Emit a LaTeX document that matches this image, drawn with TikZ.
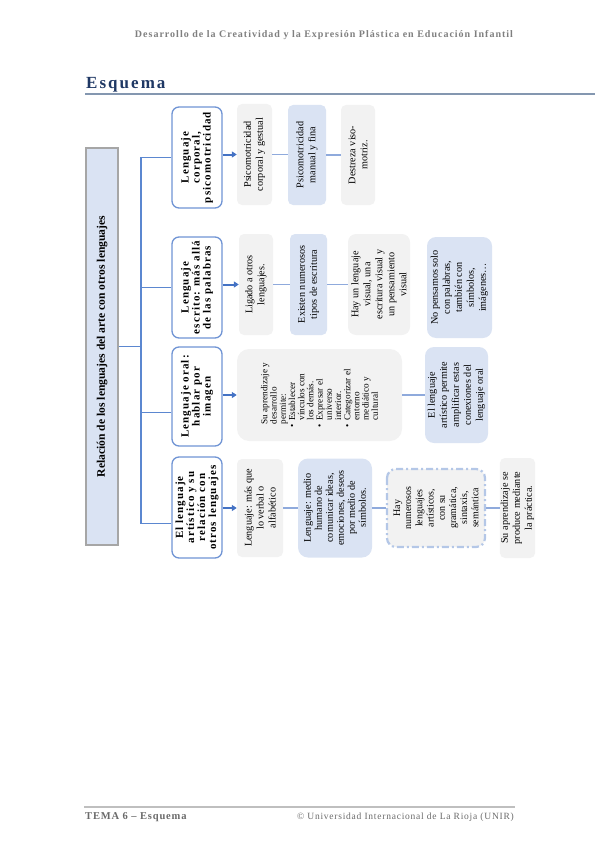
\documentclass[tikz,border=0pt]{standalone}
\usepackage{fontspec}
\setmainfont{Liberation Serif}
\newfontfamily\widefam[LetterSpace=10]{Liberation Serif}
\newfontfamily\hdfam[LetterSpace=10]{Liberation Serif}
\newfontfamily\ftfam[LetterSpace=8]{Liberation Serif}
\newfontfamily\ttlfam[LetterSpace=12]{Liberation Serif}
\usetikzlibrary{arrows.meta,calc}
\definecolor{boxgray}{HTML}{F2F2F2}
\definecolor{boxblue}{HTML}{DAE3F3}
\definecolor{lblue}{HTML}{7094D4}
\definecolor{arrblue}{HTML}{4472C4}
\definecolor{connblue}{HTML}{8FAADC}
\definecolor{spblue}{HTML}{5B87D0}
\definecolor{rootgray}{HTML}{A6A6A6}
\definecolor{dashblue}{HTML}{B4C7E7}
\definecolor{hdgray}{HTML}{7F7F7F}
\definecolor{ftgray}{HTML}{6A6A6A}
\definecolor{ttlblue}{HTML}{1F3864}
\definecolor{rulecol}{HTML}{8497B0}
\definecolor{frule}{HTML}{BFBFBF}
\tikzset{
  rbox/.style={rotate=90, align=center, inner sep=1pt, font=\fontsize{10.2}{12}\selectfont},
  gbox/.style={rbox, fill=boxgray, rounded corners=5pt},
  bbox/.style={rbox, fill=boxblue, rounded corners=5pt},
  lone/.style={rotate=90, align=center, inner sep=1pt, draw=lblue, line width=1.3pt, fill=white,
    rounded corners=7pt, minimum height=50pt, font=\widefam\bfseries\fontsize{11}{11}\selectfont},
  arr/.style={draw=arrblue, line width=2pt, -{Triangle[length=5pt,width=6pt]}},
  conn/.style={draw=connblue, line width=1.3pt},
  spine/.style={draw=spblue, line width=1.3pt},
}
\begin{document}
\begin{tikzpicture}[x=1pt,y=-1pt]
\useasboundingbox (0,0) rectangle (599,848);
% header and title
\node[anchor=base, inner sep=0, text=hdgray, font=\hdfam\bfseries\fontsize{10}{12}\selectfont] (hd) at (324,38) {Desarrollo de la Creatividad y la Expresión Plástica en Educación Infantil};
\node[anchor=base west, inner sep=0, text=ttlblue, font=\ttlfam\bfseries\fontsize{17}{17}\selectfont] (ttl) at (86,89) {Esquema};
\draw[rulecol, line width=2pt] (85,94) -- (595,94);
% footer
\draw[frule, line width=1.5pt] (84,807) -- (515,807);
\node[anchor=base west, inner sep=0, text=ftgray, font=\ftfam\bfseries\fontsize{10.5}{12}\selectfont] (ft1) at (85,819) {TEMA 6 – Esquema};
\node[anchor=base east, inner sep=0, text=ftgray, font=\ftfam\fontsize{9.5}{12}\selectfont] (ft2) at (514,819) {© Universidad Internacional de La Rioja (UNIR)};
% root
\node[rotate=90, draw=rootgray, line width=1.5pt, fill=boxblue, minimum width=397pt, minimum height=32pt,
  inner sep=1pt, font=\bfseries\fontsize{11.6}{13}\selectfont] (root) at (102,346.5) {Relación de los lenguajes del arte con otros lenguajes};
% level 1
\node[lone, minimum width=101pt] (la) at (197,157.5) {Lenguaje\\corporal,\\psicomotricidad};
\node[lone, minimum width=101pt] (lb) at (197,287.5) {Lenguaje\\escrito: más allá\\de las palabras};
\node[lone, minimum width=99pt] (lc) at (197,396.5) {Lenguaje oral:\\hablar por\\imagen};
\node[lone, minimum width=101pt] (ld) at (197,507.5) {El lenguaje\\artístico y su\\relación con\\otros lenguajes};
% spine
\coordinate (sp) at (141,346.5);
\draw[spine] (root.south) -- (sp);
\draw[spine] (la.north) -| (sp);
\draw[spine] (lb.north) -| (sp);
\draw[spine] ([yshift=-16pt]lc.north) -| (sp);
\draw[spine] ([yshift=-16pt]ld.north) -| (sp);
% row 1
\node[gbox, minimum width=101pt, minimum height=35pt] (c11) at (254.5,154.5) {Psicomotricidad\\corporal y gestual};
\node[bbox, minimum width=100pt, minimum height=38pt] (c12) at (307,155) {Psicomotricidad\\manual y fina};
\node[gbox, minimum width=100pt, minimum height=34pt] (c13) at (358,155) {Destreza viso-\\motriz.};
\draw[arr] (c11.north -| la.south) -- (c11.north);
\draw[conn] (c11.south) -- (c11.south -| c12.north);
\draw[conn] (c12.south) -- (c12.south -| c13.north);
% row 2
\node[gbox, minimum width=101pt, minimum height=34pt] (c21) at (256,284.5) {Ligado a otros\\lenguajes.};
\node[bbox, minimum width=101pt, minimum height=37pt] (c22) at (308.5,284.5) {Existen numerosos\\tipos de escritura};
\node[gbox, rounded corners=8pt, minimum width=101pt, minimum height=62pt] (c23) at (379,284.5) {Hay un lenguaje\\visual, una\\escritura visual y\\un pensamiento\\visual};
\node[bbox, rounded corners=9pt, minimum width=101pt, minimum height=65pt] (c24) at (459.5,287.5) {No pensamos solo\\con palabras,\\también con\\símbolos,\\imágenes…};
\draw[arr] (c21.north -| lb.south) -- (c21.north);
\draw[conn] (c21.south) -- (c21.south -| c22.north);
\draw[conn] (c22.south) -- (c22.south -| c23.north);
% row 3
\node[gbox, rounded corners=12pt, minimum width=92pt, minimum height=165pt, align=left,
  font=\fontsize{9.2}{9.2}\selectfont] (c31) at (319.5,395) {\hspace*{3pt}Su aprendizaje y\\
\hspace*{3pt}desarrollo\\
\hspace*{3pt}permite:\\
\textbullet\hspace{3pt}Establecer\\
\hspace*{7pt}vínculos con\\
\hspace*{7pt}los demás.\\
\textbullet\hspace{3pt}Expresar el\\
\hspace*{7pt}universo\\
\hspace*{7pt}interior.\\
\textbullet\hspace{3pt}Categorizar el\\
\hspace*{7pt}entorno\\
\hspace*{7pt}mediático y\\
\hspace*{7pt}cultural};
\node[bbox, rounded corners=9pt, minimum width=96pt, minimum height=63pt] (c32) at (456.5,395) {El lenguaje\\artístico permite\\amplificar estas\\conexiones del\\lenguaje oral};
\draw[arr] (c31.north -| lc.south) -- (c31.north);
\draw[conn] (c31.south) -- (c31.south -| c32.north);
% row 4
\node[gbox, minimum width=98pt, minimum height=46pt] (c41) at (260,508) {Lenguaje: más que\\lo verbal o\\alfabético};
\node[bbox, rounded corners=10pt, minimum width=99pt, minimum height=74pt, font=\fontsize{10.2}{11}\selectfont] (c42) at (335,508) {Lenguaje: medio\\humano de\\comunicar ideas,\\emociones, deseos\\por medio de\\símbolos.};
\node[rbox, fill=boxgray, draw=dashblue, line width=2.2pt, dash pattern=on 7pt off 3pt on 2pt off 3pt,
  rounded corners=9pt, minimum width=78pt, minimum height=98pt, font=\fontsize{10}{11.2}\selectfont] (c43) at (436,508) {Hay\\numerosos\\lenguajes\\artísticos,\\con su\\gramática,\\sintaxis,\\semántica};
\node[gbox, minimum width=100pt, minimum height=33pt] (c44) at (517.5,508) {Su aprendizaje se\\produce mediante\\la práctica.};
\draw[arr] (c41.north -| ld.south) -- (c41.north);
\draw[conn] (c41.south) -- (c41.south -| c42.north);
\draw[conn] (c42.south) -- (c42.south -| c43.north);
\draw[conn] (c43.south) -- (c43.south -| c44.north);
\end{tikzpicture}
\end{document}
